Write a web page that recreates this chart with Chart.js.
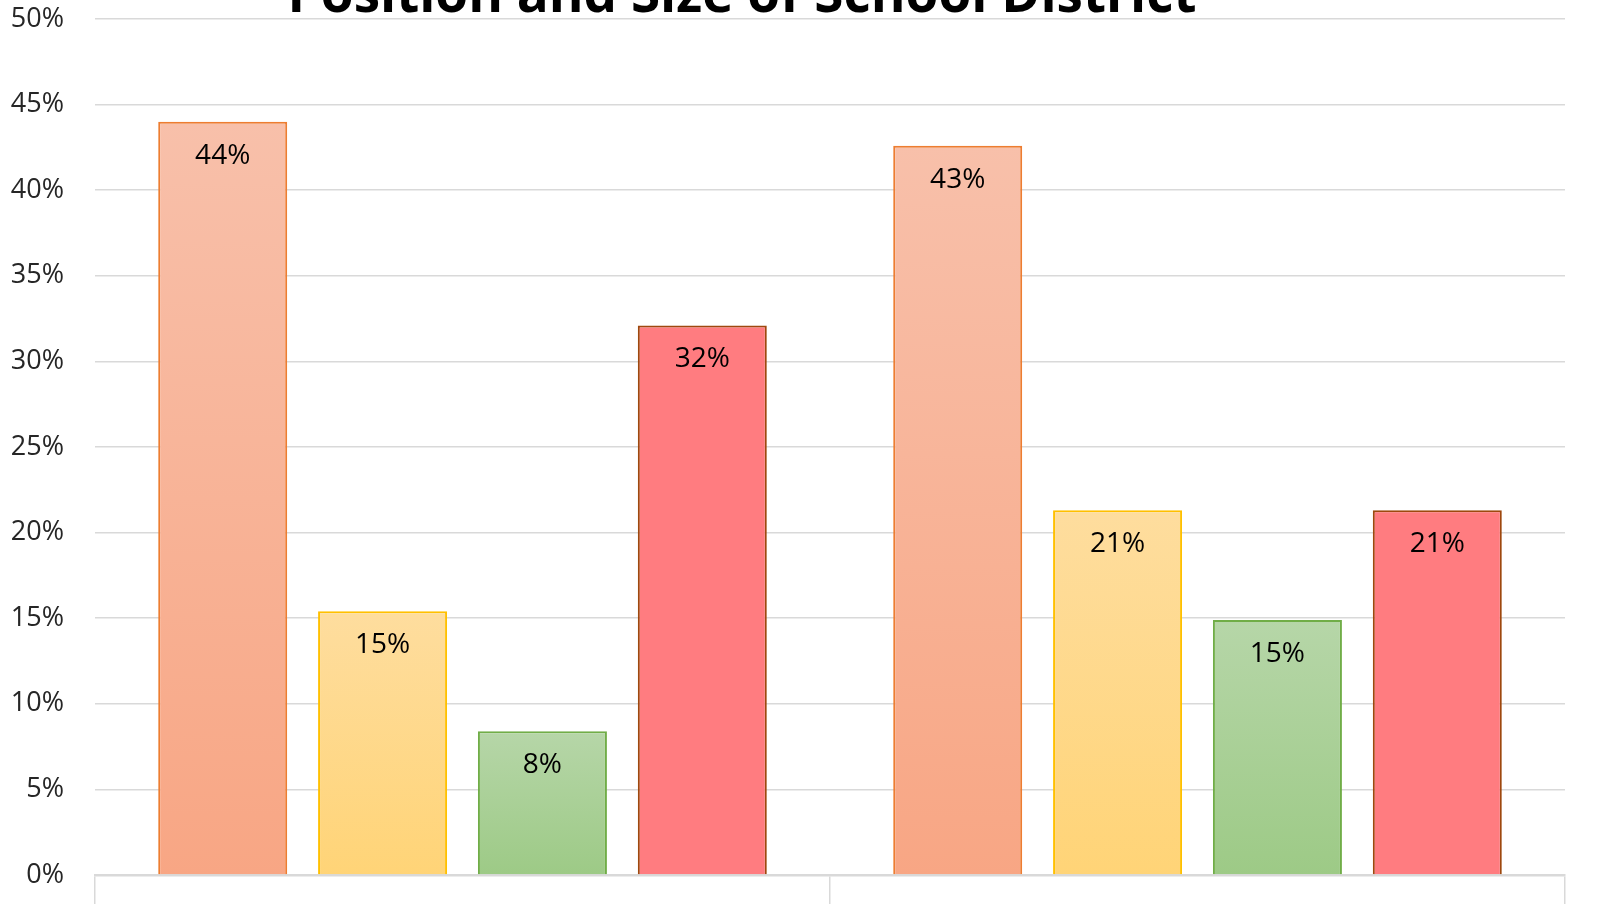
<!DOCTYPE html>
<html>
<head>
<meta charset="utf-8">
<script src="https://cdn.jsdelivr.net/npm/chart.js@4"></script>
<style>
  html, body { margin: 0; padding: 0; background: #fff; overflow: hidden; }
  #wrap { width: 1597px; height: 960px; position: relative; }
</style>
</head>
<body>
<div id="wrap"><canvas id="districtChart"></canvas></div>
<script>
// categories (x axis, cut off at the bottom of the picture)
const categories = ['Small School Districts', 'Large School Districts'];
// series (percent)
const seriesNames = ['Superintendent', 'Assistant Superintendent', 'Principal', 'Other'];
const orangeVals = [44.0, 42.6];
const yellowVals = [15.4, 21.3];
const greenVals = [8.4, 14.9];
const redVals = [32.1, 21.3];
// y axis
const yMin = 0, yMax = 50, yStep = 5;

const FONT = "'Open Sans', 'Noto Sans', sans-serif";

// gradient from the bar top to the baseline, like the Excel fill
function barGradient(topColor, bottomColor) {
    return (c) => {
        const chart = c.chart;
        if (!chart.chartArea || c.raw == null) return bottomColor;
        const y = chart.scales.y;
        const g = chart.ctx.createLinearGradient(0, y.getPixelForValue(c.raw), 0, y.getPixelForValue(0));
        g.addColorStop(0, topColor);
        g.addColorStop(1, bottomColor);
        return g;
    };
}

const valueLabels = {
    id: 'valueLabels',
    afterDatasetsDraw(chart) {
        const ctx = chart.ctx;
        ctx.save();
        ctx.font = '28px ' + FONT;
        ctx.fillStyle = '#000';
        ctx.textAlign = 'center';
        ctx.textBaseline = 'middle';
        chart.data.datasets.forEach((ds, i) => {
            chart.getDatasetMeta(i).data.forEach((bar, j) => {
                ctx.fillText(Math.round(ds.data[j]) + '%', bar.x, bar.y + 34);
            });
        });
        ctx.restore();
    }
};

// title sits partly above the top edge of the picture
const topTitle = {
    id: 'topTitle',
    afterDraw(chart) {
        const ctx = chart.ctx;
        ctx.save();
        ctx.font = 'bold 53px ' + FONT;
        ctx.fillStyle = '#000';
        ctx.textAlign = 'center';
        ctx.textBaseline = 'alphabetic';
        ctx.fillText('Position and Size of School District', 742, 12);
        ctx.restore();
    }
};

new Chart(document.getElementById('districtChart'), {
    type: 'bar',
    data: {
        labels: categories,
        datasets: [
            { label: seriesNames[0], data: orangeVals, backgroundColor: barGradient('#F8C0AA', '#F8A684'), borderColor: '#ED7D31', borderWidth: 2 },
            { label: seriesNames[1], data: yellowVals, backgroundColor: barGradient('#FEDD9E', '#FFD477'), borderColor: '#FFC000', borderWidth: 2 },
            { label: seriesNames[2], data: greenVals, backgroundColor: barGradient('#B6D6A8', '#9DCA86'), borderColor: '#70AD47', borderWidth: 2 },
            { label: seriesNames[3], data: redVals, backgroundColor: '#FF7C80', borderColor: '#9E480E', borderWidth: 2 }
        ]
    },
    options: {
        responsive: true,
        maintainAspectRatio: false,
        animation: false,
        categoryPercentage: 0.87,
        barPercentage: 0.807,
        layout: { padding: { top: 19, right: 32, left: 0, bottom: 0 } },
        plugins: {
            legend: { display: false },
            title: { display: false },
            tooltip: { enabled: false }
        },
        scales: {
            x: {
                grid: { offset: true, drawOnChartArea: false, drawTicks: true, tickLength: 40, color: '#d9d9d9', lineWidth: 1.5 },
                border: { display: true, color: '#d9d9d9', width: 2.5 },
                ticks: { color: '#262626', font: { family: FONT, size: 28 }, padding: -14 },
                afterFit: s => { s.height = 85; }
            },
            y: {
                min: yMin,
                max: yMax,
                ticks: { stepSize: yStep, color: '#262626', font: { family: FONT, size: 27 }, padding: 0, callback: v => v + '%' },
                grid: { color: '#d9d9d9', lineWidth: 1.5, drawTicks: true, tickLength: 31, tickColor: 'rgba(0,0,0,0)' },
                border: { display: false },
                afterFit: s => { s.width = 95; }
            }
        }
    },
    plugins: [valueLabels, topTitle]
});
</script>
</body>
</html>
